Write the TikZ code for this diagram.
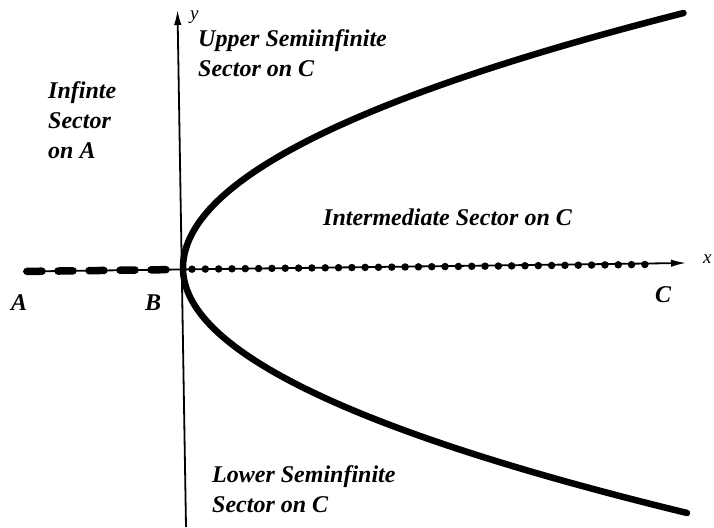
\documentclass[tikz,border=0pt]{standalone}
\usepackage{fontspec}
\setmainfont{Liberation Serif}
\usetikzlibrary{arrows.meta}
\tikzset{
  axisline/.style={line width=1.8pt, -{Latex[length=15pt,width=7.5pt]}},
  curveline/.style={line width=6.5pt, line cap=round},
  dashline/.style={line width=7.5pt, line cap=round, dash pattern=on 15pt off 16pt},
  dotline/.style={line width=7.5pt, line cap=round, dash pattern=on 0pt off 13.32pt},
  lbl/.style={font=\fontsize{24}{30}\selectfont\bfseries\itshape, inner sep=0pt, anchor=base west},
  axlbl/.style={font=\fontsize{19}{22}\selectfont\itshape, inner sep=0pt, anchor=base west}
}
\begin{document}
\begin{tikzpicture}[x=1pt,y=-1pt]
\useasboundingbox (0,0) rectangle (714,527);
% axes
\coordinate (xs) at (23,271.5);
\coordinate (xe) at (686,263);
\coordinate (ys) at (186,527);
\coordinate (ye) at (177.5,10);
\draw[axisline] (ys) -- (ye);
\draw[axisline] (xs) -- (xe);
% dashed segment A--B
\coordinate (da) at (27,271.4);
\coordinate (db) at (172,269.6);
\draw[dashline] (da) -- (db);
% dotted segment on C
\coordinate (dc) at (192,269.2);
\coordinate (dd) at (645.6,264.5);
\draw[dotline] (dc) -- (dd);
% parabola
\draw[curveline] plot[domain=0:2.55, samples=80] ({183+77*\x*\x},{268-100*\x});
\draw[curveline] plot[domain=0:2.45, samples=80] ({183+84*\x*\x},{268+100*\x});
% axis labels
\node[axlbl] (ylab) at (190,20) {y};
\node[axlbl] (xlab) at (703,263) {x};
% point labels
\node[lbl] (A) at (11,310) {A};
\node[lbl] (B) at (145,310) {B};
\node[lbl] (C) at (655,302) {C};
% sector labels
\node[lbl] (u1) at (198,47) {Upper Semiinfinite};
\node[lbl] (u2) at (198,77) {Sector on C};
\node[lbl] (i1) at (48,98) {Infinte};
\node[lbl] (i2) at (48,128) {Sector};
\node[lbl] (i3) at (48,158) {on A};
\node[lbl] (m1) at (323,225) {Intermediate Sector on C};
\node[lbl] (l1) at (212,482) {Lower Seminfinite};
\node[lbl] (l2) at (212,512) {Sector on C};
\end{tikzpicture}
\end{document}
